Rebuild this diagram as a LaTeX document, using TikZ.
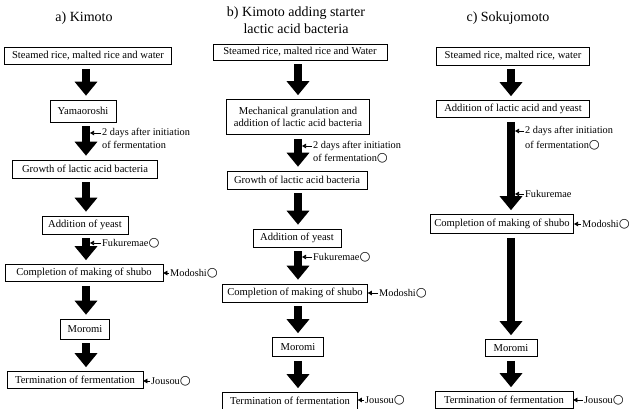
\documentclass[tikz,border=0pt]{standalone}
\usepackage{fontspec}
\setmainfont{Liberation Serif}
\newfontfamily\symfont{DejaVu Sans}
\usetikzlibrary{arrows.meta,positioning}
\newcommand{\circmark}{{\symfont\fontsize{12.5}{12}\selectfont ○}}

\tikzset{
  stage/.style={draw, line width=0.6pt, font=\fontsize{10.6}{12.5}\selectfont,
    inner xsep=4pt, inner ysep=2pt, minimum height=17pt},
  heading/.style={font=\fontsize{14}{17}\selectfont, align=center},
  flow/.style={line width=8pt, -{Triangle[width=22pt,length=14pt]},
    shorten <=4pt, shorten >=4pt},
  note/.style={font=\fontsize{10.3}{12}\selectfont, inner xsep=1pt,
    inner ysep=0pt, anchor=west},
  tick/.style={line width=0.6pt, -{Triangle[width=4.5pt,length=4pt]}}
}

\begin{document}
\begin{tikzpicture}[x=1pt,y=-1pt]
    \useasboundingbox (0,0) rectangle (630,409);
    % shaft centres and shaft edges
    \coordinate (ca) at (86,0);  \coordinate (ea) at (90,0);
    \coordinate (cb) at (298,0); \coordinate (eb) at (302,0);
    \coordinate (cc) at (511,0); \coordinate (ec) at (515,0);

    % a) Kimoto
    \node[heading] (ta) at (84,18) {a) Kimoto};
    \node[stage, minimum width=167pt] (a1) at (88,56) {Steamed rice, malted rice and water};
    \node[stage, minimum width=66pt, minimum height=22pt] (a2) at (83,111) {Yamaoroshi};
    \node[stage, minimum width=145pt, minimum height=18pt] (a3) at (85,169) {Growth of lactic acid bacteria};
    \node[stage, minimum width=86pt, minimum height=18pt] (a4) at (85,225) {Addition of yeast};
    \node[stage, minimum width=158pt] (a5) at (84,273) {Completion of making of shubo};
    \node[stage, minimum width=49pt, minimum height=20pt] (a6) at (85,329) {Moromi};
    \node[stage, minimum width=136pt] (a7) at (75,380) {Termination of fermentation};
    \draw[flow] (a1.south -| ca) -- (a2.north -| ca);
    \draw[flow] (a2.south -| ca) -- (a3.north -| ca);
    \draw[flow] (a3.south -| ca) -- (a4.north -| ca);
    \draw[flow] (a4.south -| ca) -- (a5.north -| ca);
    \draw[flow] (a5.south -| ca) -- (a6.north -| ca);
    \draw[flow] (a6.south -| ca) -- (a7.north -| ca);
    \node[note] (ka) at (101,133) {2 days after initiation};
    \node[note] (kb) at (101,145) {of fermentation};
    \node[note] (fa) at (101,243) {Fukuremae\circmark};
    \node[note] (ma) at (169,273) {Modoshi\circmark};
    \node[note] (ja) at (150,381) {Jousou\circmark};
    \draw[tick] (ka.west) -- (ka.west -| ea);
    \draw[tick] (fa.west) -- (fa.west -| ea);
    \draw[tick] (ma.west) -- (a5.east |- ma.west);
    \draw[tick] (ja.west) -- (a7.east |- ja.west);

    % b) Kimoto adding starter lactic acid bacteria
    \node[heading] (tb) at (296,20) {b) Kimoto adding starter\\lactic acid bacteria};
    \node[stage, minimum width=174pt, minimum height=16pt] (b1) at (300,52) {Steamed rice, malted rice and Water};
    \node[stage, minimum width=143pt, minimum height=35pt, align=center] (b2) at (298,117)
      {Mechanical granulation and\\addition of lactic acid bacteria};
    \node[stage, minimum width=140pt, minimum height=18pt] (b3) at (297,180) {Growth of lactic acid bacteria};
    \node[stage, minimum width=88pt, minimum height=18pt] (b4) at (297,238) {Addition of yeast};
    \node[stage, minimum width=145pt, minimum height=18pt] (b5) at (295,293) {Completion of making of shubo};
    \node[stage, minimum width=51pt, minimum height=19pt] (b6) at (298,347) {Moromi};
    \node[stage, minimum width=135pt] (b7) at (290,401) {Termination of fermentation};
    \draw[flow] (b1.south -| cb) -- (b2.north -| cb);
    \draw[flow] (b2.south -| cb) -- (b3.north -| cb);
    \draw[flow] (b3.south -| cb) -- (b4.north -| cb);
    \draw[flow] (b4.south -| cb) -- (b5.north -| cb);
    \draw[flow] (b5.south -| cb) -- (b6.north -| cb);
    \draw[flow] (b6.south -| cb) -- (b7.north -| cb);
    \node[note] (kc) at (312,146) {2 days after initiation};
    \node[note] (kd) at (312,158) {of fermentation\circmark};
    \node[note] (fb) at (312,257) {Fukuremae\circmark};
    \node[note] (mb) at (378,293) {Modoshi\circmark};
    \node[note] (jb) at (364,400) {Jousou\circmark};
    \draw[tick] (kc.west) -- (kc.west -| eb);
    \draw[tick] (fb.west) -- (fb.west -| eb);
    \draw[tick] (mb.west) -- (b5.east |- mb.west);
    \draw[tick] (jb.west) -- (b7.east |- jb.west);

    % c) Sokujomoto
    \node[heading] (tc) at (508,18) {c) Sokujomoto};
    \node[stage, minimum width=153pt, minimum height=18pt] (c1) at (513,56) {Steamed rice, malted rice, water};
    \node[stage, minimum width=153pt] (c2) at (513,109) {Addition of lactic acid and yeast};
    \node[stage, minimum width=140pt, minimum height=19pt] (c3) at (502,224) {Completion of making of shubo};
    \node[stage, minimum width=52pt] (c4) at (511,348) {Moromi};
    \node[stage, minimum width=138pt] (c5) at (504,400) {Termination of fermentation};
    \draw[flow] (c1.south -| cc) -- (c2.north -| cc);
    \draw[flow] (c2.south -| cc) -- (c3.north -| cc);
    \draw[flow] (c3.south -| cc) -- (c4.north -| cc);
    \draw[flow] (c4.south -| cc) -- (c5.north -| cc);
    \node[note] (ke) at (524,131) {2 days after initiation};
    \node[note] (kf) at (524,145) {of fermentation\circmark};
    \node[note] (fc) at (524,194) {Fukuremae};
    \node[note] (mc) at (581,224) {Modoshi\circmark};
    \node[note] (jc) at (583,400) {Jousou\circmark};
    \draw[tick] (ke.west) -- (ke.west -| ec);
    \draw[tick] (fc.west) -- (fc.west -| ec);
    \draw[tick] (mc.west) -- (c3.east |- mc.west);
    \draw[tick] (jc.west) -- (c5.east |- jc.west);
\end{tikzpicture}
\end{document}
